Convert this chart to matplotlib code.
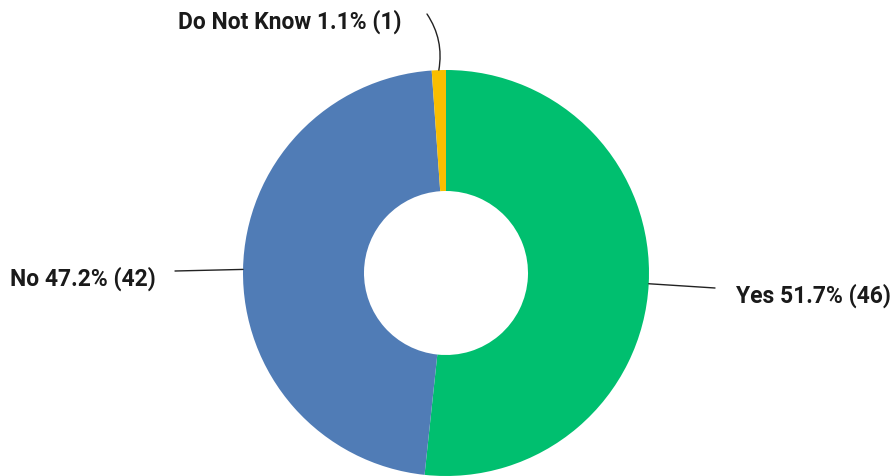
import numpy as np
import matplotlib.pyplot as plt

labels = ["Yes", "No", "Do Not Know"]
counts = [46, 42, 1]
colors = ["#00BF6F", "#507CB6", "#F9BE00"]

W, H = 894, 476
cx, cy = 446, 203
r_out, r_in = 203, 82

fig = plt.figure(figsize=(W / 100, H / 100), dpi=100)
ax = fig.add_axes([0, 0, 1, 1])
wedges, _ = ax.pie(counts, colors=colors, startangle=90, counterclock=False,
                   center=(cx, cy), radius=r_out,
                   wedgeprops=dict(width=r_out - r_in, linewidth=0))
ax.set_xlim(0, W)
ax.set_ylim(0, H)
ax.set_aspect("equal")
ax.axis("off")

total = sum(counts)
font = dict(family=["Roboto", "DejaVu Sans"], fontsize=16.5, weight="bold", color="#1a1a1a")

# label text positions (pixel coords, y up) and leader end points
text_pos = [(736, 180), (10, 197), (178, 454)]
line_end = [(715, 188), (175, 205), (427, 462)]
for w, lab, n, tp, le in zip(wedges, labels, counts, text_pos, line_end):
    ang = np.deg2rad((w.theta1 + w.theta2) / 2)
    px = cx + r_out * np.cos(ang)
    py = cy + r_out * np.sin(ang)
    txt = f"{lab} {100 * n / total:.1f}% ({n})"
    ax.text(tp[0], tp[1], txt, va="center", ha="left", **font)
    cs = "arc3,rad=-0.2" if n == 1 else "arc3,rad=0"
    ax.annotate("", xy=(px, py), xytext=le,
                arrowprops=dict(arrowstyle="-", color="#222222", lw=1,
                                shrinkA=0, shrinkB=0, connectionstyle=cs))

fig.savefig("out.png", dpi=100)
